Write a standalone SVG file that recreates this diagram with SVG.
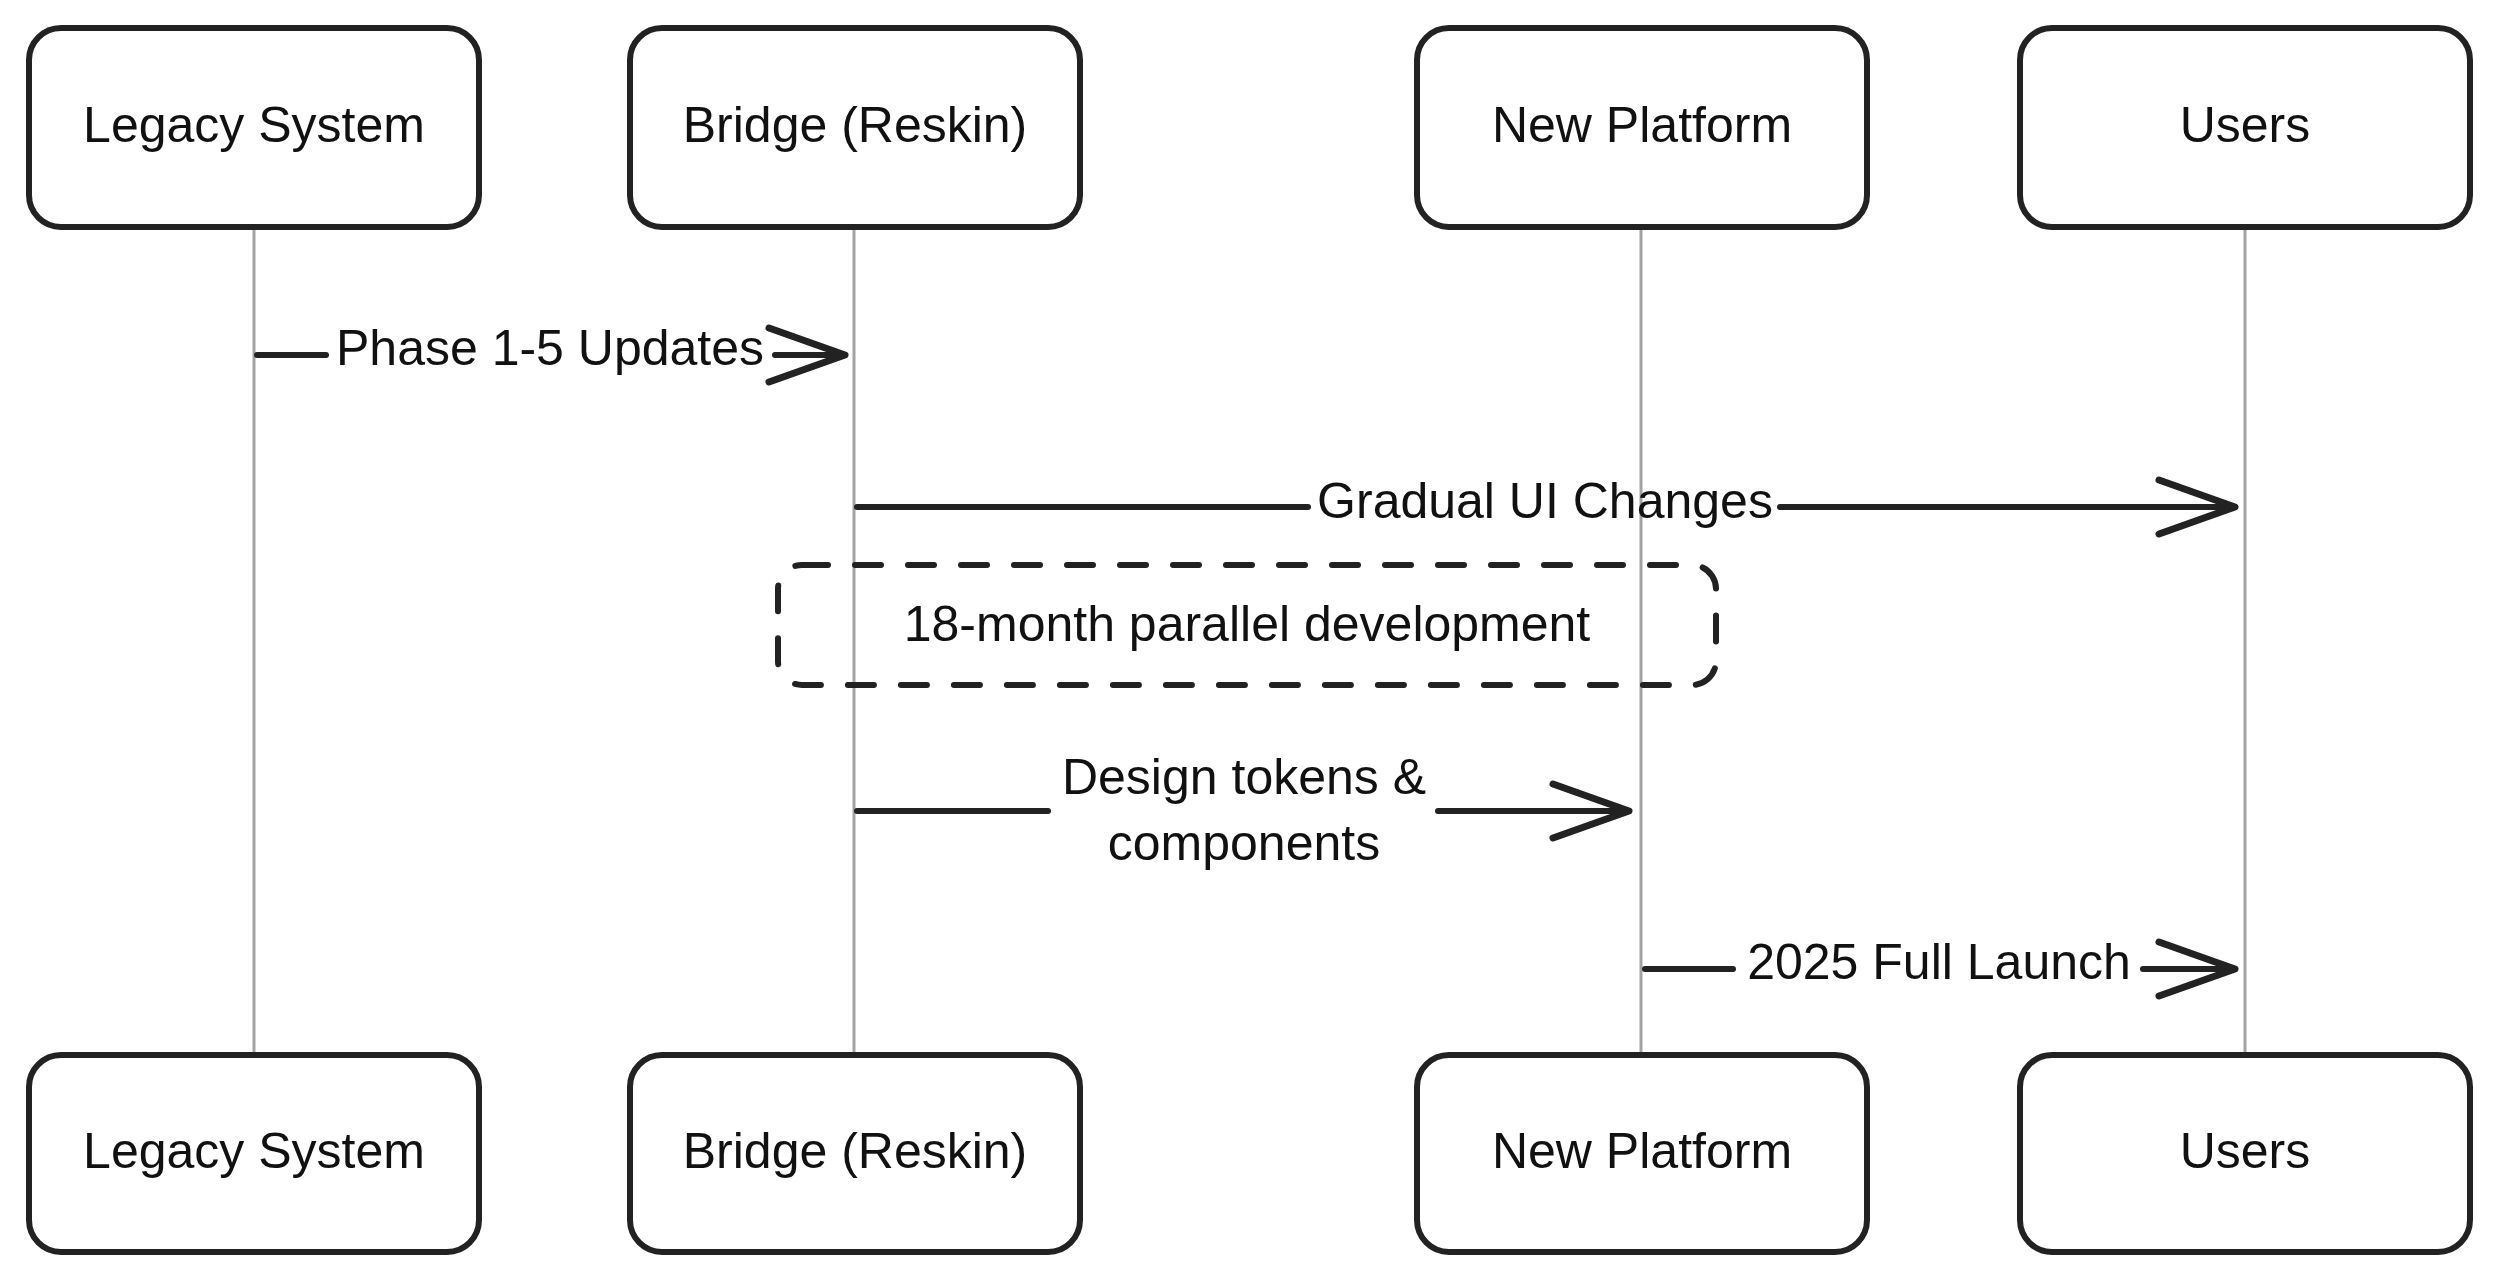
<svg xmlns="http://www.w3.org/2000/svg" width="2496" height="1281" viewBox="0 0 2496 1281">
<style>
.box{fill:#fff;stroke:#222;stroke-width:6}
.lbl{font-family:"Liberation Sans",Arial,sans-serif;font-size:50px;fill:#111;text-anchor:middle}
.life{stroke:#a3a3a3;stroke-width:3;fill:none}
.msg{stroke:#222;stroke-width:6;fill:none;stroke-linecap:round}
.note{fill:none;stroke:#222;stroke-width:6;stroke-dasharray:26 27;stroke-linecap:round}
</style>
<defs>
<marker id="arr" markerUnits="userSpaceOnUse" viewBox="-84 -34 92 68" refX="0" refY="0" markerWidth="92" markerHeight="68" orient="auto">
<path d="M-76,-27 L0,0 L-76,27" fill="none" stroke="#222" stroke-width="7" stroke-linecap="round" stroke-linejoin="round"/>
</marker>
</defs>
<rect width="2496" height="1281" fill="#fff"/>
<g id="lifelines">
<line class="life" x1="254" y1="227" x2="254" y2="1055"/>
<line class="life" x1="854" y1="227" x2="854" y2="1055"/>
<line class="life" x1="1641" y1="227" x2="1641" y2="1055"/>
<line class="life" x1="2245" y1="227" x2="2245" y2="1055"/>
</g>
<g id="legacy-top"><rect class="box" x="29" y="28" width="450" height="199" rx="32"/><text class="lbl" x="254" y="142">Legacy System</text></g>
<g id="bridge-top"><rect class="box" x="630" y="28" width="450" height="199" rx="32"/><text class="lbl" x="855" y="142">Bridge (Reskin)</text></g>
<g id="platform-top"><rect class="box" x="1417" y="28" width="450" height="199" rx="32"/><text class="lbl" x="1642" y="142">New Platform</text></g>
<g id="users-top"><rect class="box" x="2020" y="28" width="450" height="199" rx="32"/><text class="lbl" x="2245" y="142">Users</text></g>
<g id="legacy-bottom"><rect class="box" x="29" y="1055" width="450" height="197" rx="32"/><text class="lbl" x="254" y="1168">Legacy System</text></g>
<g id="bridge-bottom"><rect class="box" x="630" y="1055" width="450" height="197" rx="32"/><text class="lbl" x="855" y="1168">Bridge (Reskin)</text></g>
<g id="platform-bottom"><rect class="box" x="1417" y="1055" width="450" height="197" rx="32"/><text class="lbl" x="1642" y="1168">New Platform</text></g>
<g id="users-bottom"><rect class="box" x="2020" y="1055" width="450" height="197" rx="32"/><text class="lbl" x="2245" y="1168">Users</text></g>
<g id="note">
<rect class="note" x="778" y="565" width="938" height="120" rx="24"/>
<text class="lbl" x="1247" y="641">18-month parallel development</text>
</g>
<g id="connectors">
<line class="msg" x1="257" y1="355" x2="326" y2="355"/>
<line class="msg" x1="775" y1="355" x2="845" y2="355" marker-end="url(#arr)"/>
<text class="lbl" x="550" y="365">Phase 1-5 Updates</text>
<line class="msg" x1="857" y1="507" x2="1308" y2="507"/>
<line class="msg" x1="1780" y1="507" x2="2235" y2="507" marker-end="url(#arr)"/>
<text class="lbl" x="1545" y="518">Gradual UI Changes</text>
<line class="msg" x1="857" y1="811" x2="1048" y2="811"/>
<line class="msg" x1="1438" y1="811" x2="1629" y2="811" marker-end="url(#arr)"/>
<text class="lbl" x="1244" y="794">Design tokens &amp;</text>
<text class="lbl" x="1244" y="860">components</text>
<line class="msg" x1="1645" y1="969" x2="1733" y2="969"/>
<line class="msg" x1="2143" y1="969" x2="2235" y2="969" marker-end="url(#arr)"/>
<text class="lbl" x="1939" y="979">2025 Full Launch</text>
</g>
</svg>
